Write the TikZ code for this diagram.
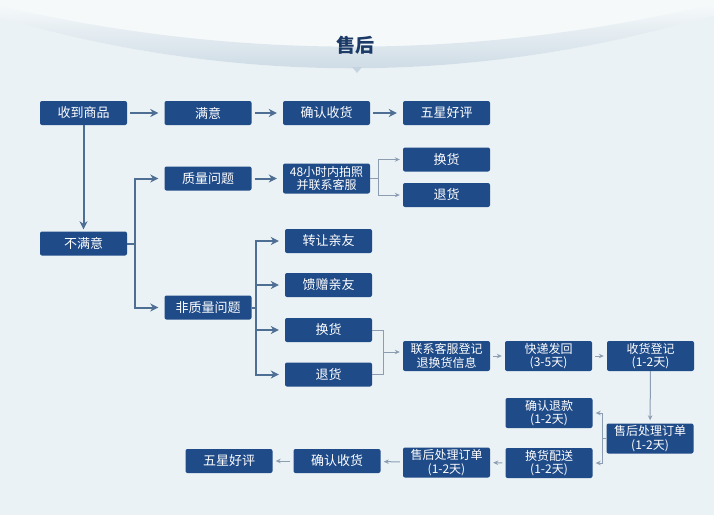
\documentclass[tikz,border=0pt]{standalone}
\usepackage{fontspec}
\newfontfamily\cjk{Noto Sans CJK SC}
\usetikzlibrary{arrows.meta}
\definecolor{bgc}{HTML}{EAF2F5}
\definecolor{boxblue}{HTML}{1F4B89}
\definecolor{thickc}{HTML}{4E6E94}
\definecolor{thinc}{HTML}{8C9DB2}
\definecolor{titlec}{HTML}{1B3A66}
\definecolor{arcc}{HTML}{C4D4E0}
\tikzset{
  x=1pt, y=-1pt,
  box/.style={rounded corners=2pt, fill=boxblue, text=white, minimum width=87pt,
    minimum height=24pt, inner sep=0pt, align=center,
    font=\cjk\fontsize{13}{14}\selectfont},
  box2/.style={box, minimum height=30pt, font=\cjk\fontsize{12}{13.5}\selectfont},
  thick line/.style={draw=thickc, line width=2pt},
  thick arrow/.style={thick line, -{Stealth[length=8pt,width=8pt,inset=2.5pt]}, shorten >=6pt},
  thin line/.style={draw=thinc, line width=1pt},
  thin arrow/.style={thin line, -{Stealth[length=5pt,width=4.5pt]}, shorten >=3pt},
}
\begin{document}
\begin{tikzpicture}
\useasboundingbox (0,0) rectangle (714,515);
\fill[bgc] (0,0) rectangle (714,515);
% top arc band
\fill[white!55!bgc]
  (0,0) -- (714,0) -- (714,15) .. controls (476,85) and (238,86) .. (0,18) -- cycle;
\shade[top color=white!55!bgc, bottom color=arcc]
  (0,18) .. controls (238,86) and (476,85) .. (714,15) -- (714,4)
  .. controls (476,60) and (238,61) .. (0,6) -- cycle;
\fill[arcc] (352,67) -- (357,73) -- (362,67) -- cycle;
\node[font=\cjk\bfseries\fontsize{19}{20}\selectfont, text=titlec] (title) at (355,45) {售后};

% row 1
\node[box] (shou) at (83.5,113) {收到商品};
\node[box] (my) at (208,113) {满意};
\node[box] (qr1) at (326.5,113) {确认收货};
\node[box] (wx1) at (446.5,113) {五星好评};
% quality
\node[box] (zl) at (208,178.5) {质量问题};
\node[box2] (h48) at (326.5,178.5) {48小时内拍照\\并联系客服};
\node[box] (hh1) at (446.5,159.5) {换货};
\node[box] (th1) at (446.5,195) {退货};
% not satisfied
\node[box] (bmy) at (83.5,243.5) {不满意};
\node[box] (fzl) at (208,307.5) {非质量问题};
\node[box] (zr) at (328.5,241) {转让亲友};
\node[box] (kz) at (328.5,285) {馈赠亲友};
\node[box] (hh2) at (328.5,330) {换货};
\node[box] (th2) at (328.5,374.5) {退货};
% process
\node[box2] (lx) at (446.5,356) {联系客服登记\\退换货信息};
\node[box2] (kd) at (548.5,356) {快递发回\\(3-5天)};
\node[box2] (sh) at (650.5,356) {收货登记\\(1-2天)};
\node[box2] (cl1) at (650,438.5) {售后处理订单\\(1-2天)};
\node[box2] (tk) at (549,413) {确认退款\\(1-2天)};
\node[box2] (ps) at (549,463) {换货配送\\(1-2天)};
\node[box2] (cl2) at (446.5,462.5) {售后处理订单\\(1-2天)};
\node[box] (qr2) at (337,461) {确认收货};
\node[box] (wx2) at (229,461) {五星好评};

% row 1 connectors
\draw[thick arrow, shorten <=3pt] (shou) -- (my);
\draw[thick arrow, shorten <=3pt] (my) -- (qr1);
\draw[thick arrow, shorten <=3pt] (qr1) -- (wx1);
\draw[thick arrow, shorten >=2pt] (shou) -- (bmy);
% split after 不满意
\coordinate (t1) at (135,243.5);
\draw[thick line] (bmy.east) -- (t1);
\draw[thick arrow] (t1) |- (zl.west);
\draw[thick arrow] (t1) |- (fzl.west);
\draw[thick arrow, shorten <=3pt] (zl) -- (h48);
% split after 48h
\coordinate (t3) at (378,178.5);
\draw[thin line] (h48.east) -- (t3);
\draw[thin arrow] (t3) |- (hh1.west);
\draw[thin arrow] (t3) |- (th1.west);
% split after 非质量问题
\coordinate (t2) at (256,307.5);
\draw[thick line] (fzl.east) -- (t2);
\draw[thick arrow] (t2) |- (zr.west);
\draw[thick arrow] (t2) |- (kz.west);
\draw[thick arrow] (t2) |- (hh2.west);
\draw[thick arrow] (t2) |- (th2.west);
% join of 换货 / 退货
\coordinate (j1) at (383,352);
\draw[thin line] (hh2.east) -| (j1);
\draw[thin line] (th2.east) -| (j1);
\draw[thin arrow] (j1) -- (j1 -| lx.west);
\draw[thin arrow, shorten <=3pt] (lx) -- (kd);
\draw[thin arrow, shorten <=3pt] (kd) -- (sh);
\draw[thin arrow] (sh) -- (cl1);
% split after 售后处理订单
\coordinate (t4) at (602,438.5);
\draw[thin line] (cl1.west) -- (t4);
\draw[thin arrow] (t4) |- (tk.east);
\draw[thin arrow] (t4) |- (ps.east);
\draw[thin arrow, shorten <=3pt] (ps) -- (cl2);
\draw[thin arrow, shorten <=3pt] (cl2) -- (qr2);
\draw[thin arrow, shorten <=3pt] (qr2) -- (wx2);
\end{tikzpicture}
\end{document}
